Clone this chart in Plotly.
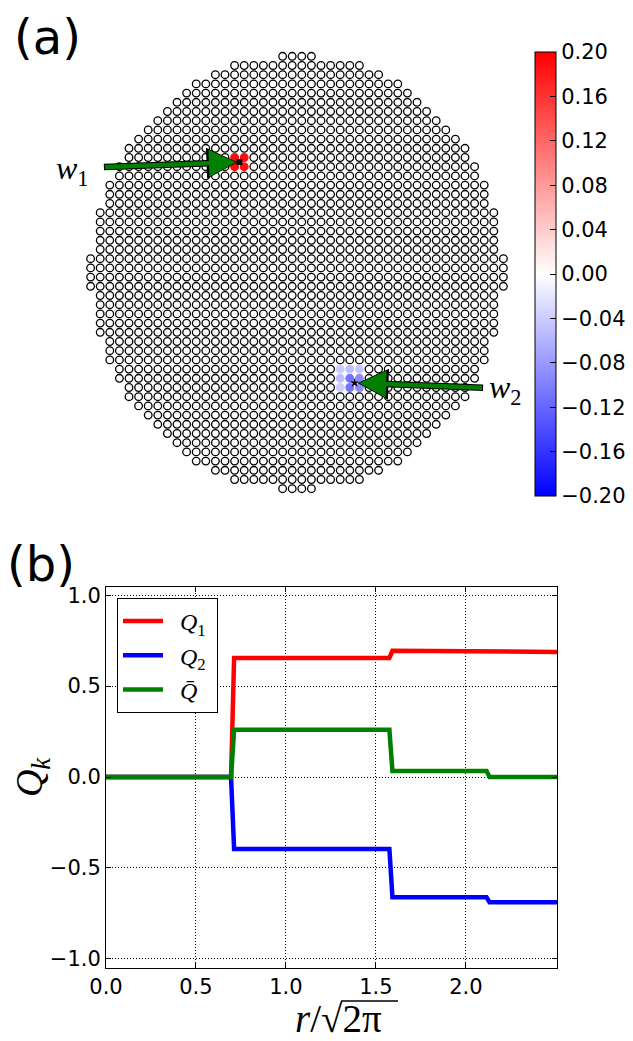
import numpy as np
import plotly.graph_objects as go

W, H = 633, 1041
OFF = 8  # page offset of the figure div (body margin)


def fx(px):
    return (px - OFF) / W


def fy(py):
    return 1 - (py - OFF) / H


# ---------------- Panel (a): lattice data ----------------
n_cols = 44
n_rows = 48
semi_x = 21.58      # half-width of the disc in lattice units
semi_y = 23.60      # half-height of the disc in lattice units

w1_pos = (-6.0, 12.0)
w2_pos = (6.0, -12.0)
# site offsets from the vortex centre and their values
w1_dx = [-0.5, 0.5, -0.5, 0.5]
w1_dy = [0.5, 0.5, -0.5, -0.5]
w1_val = [0.19, 0.19, 0.19, 0.19]
w2_dx = [-0.5, 0.5, -0.5, 0.5, -1.5, -1.5, -1.5, -0.5, 0.5]
w2_dy = [0.5, 0.5, -0.5, -0.5, 1.5, 0.5, -0.5, 1.5, 1.5]
w2_val = [-0.11, -0.09, -0.11, -0.09, -0.04, -0.05, -0.04, -0.05, -0.045]

cb_ticks = [-0.20, -0.16, -0.12, -0.08, -0.04, 0.00, 0.04, 0.08, 0.12, 0.16, 0.20]

# ---------------- Panel (b): step data ----------------
r_vals = [0.0, 0.695, 0.712, 1.575, 1.592, 2.115, 2.132, 2.5066]
q1_vals = [0.0, 0.0, 0.655, 0.655, 0.694, 0.694, 0.688, 0.688]
q2_vals = [0.0, 0.0, -0.395, -0.395, -0.661, -0.661, -0.689, -0.689]
qbar_vals = [0.0, 0.0, 0.260, 0.260, 0.033, 0.033, 0.0, 0.0]
x_ticks = [0.0, 0.5, 1.0, 1.5, 2.0]
y_ticks = [-1.0, -0.5, 0.0, 0.5, 1.0]

# ---------------- build lattice ----------------
xs, ys = [], []
for i in range(n_rows):
    y = i - (n_rows - 1) / 2
    for j in range(n_cols):
        x = j - (n_cols - 1) / 2
        if (x / semi_x) ** 2 + (y / semi_y) ** 2 <= 1.0:
            xs.append(x)
            ys.append(y)
xs = np.array(xs)
ys = np.array(ys)
vals = np.zeros(len(xs))
for (cx, cy), dxs, dys, vs in [(w1_pos, w1_dx, w1_dy, w1_val), (w2_pos, w2_dx, w2_dy, w2_val)]:
    for dx, dy, v in zip(dxs, dys, vs):
        m = (np.abs(xs - (cx + dx)) < 1e-6) & (np.abs(ys - (cy + dy)) < 1e-6)
        vals[m] = v

bwr = [[0.0, "rgb(0,0,255)"], [0.5, "rgb(255,255,255)"], [1.0, "rgb(255,0,0)"]]


def bwr_color(v):
    t = min(max((v + 0.2) / 0.4, 0.0), 1.0)
    if t < 0.5:
        f = t / 0.5
        r = g = int(round(255 * f))
        b = 255
    else:
        f = (t - 0.5) / 0.5
        r = 255
        g = b = int(round(255 * (1 - f)))
    return f"rgb({r},{g},{b})"


edge_cols = ["black" if abs(v) < 1e-9 else bwr_color(v) for v in vals]


def fmt(v):
    s = f"{abs(v):.2f}"
    return ("\u2212" + s) if v < -1e-9 else s


fig = go.Figure()

fig.add_trace(go.Scatter(
    x=xs, y=ys, mode="markers", showlegend=False, hoverinfo="skip",
    marker=dict(
        size=7.6, color=vals, colorscale=bwr, cmin=-0.2, cmax=0.2,
        line=dict(color=edge_cols, width=1.3),
        showscale=True,
        colorbar=dict(
            thickness=21, thicknessmode="pixels",
            len=444, lenmode="pixels",
            x=fx(535), xanchor="left", y=fy(274), yanchor="middle",
            outlinewidth=1, outlinecolor="black",
            ticks="inside", ticklen=6, tickcolor="black", tickwidth=1,
            tickvals=cb_ticks, ticktext=[fmt(v) for v in cb_ticks],
            tickfont=dict(family="DejaVu Sans", size=21, color="black"),
            xpad=0, ypad=0,
        ),
    ),
    xaxis="x", yaxis="y",
))

fig.add_trace(go.Scatter(
    x=[w1_pos[0]], y=[w1_pos[1]], mode="markers", showlegend=False, hoverinfo="skip",
    marker=dict(symbol="square", size=6, color="black"), xaxis="x", yaxis="y"))
fig.add_trace(go.Scatter(
    x=[w2_pos[0]], y=[w2_pos[1]], mode="markers", showlegend=False, hoverinfo="skip",
    marker=dict(symbol="star", size=7, color="black"), xaxis="x", yaxis="y"))

# ---------------- panel (b) traces ----------------
NB = "\u00a0"
for name, vals_b, col in [(NB * 2 + "<i>Q</i><sub>1</sub>" + NB, q1_vals, "#ff0000"),
                          (NB * 2 + "<i>Q</i><sub>2</sub>" + NB, q2_vals, "#0000ff"),
                          (NB * 2 + "<i>Q\u0304</i>", qbar_vals, "#008000")]:
    fig.add_trace(go.Scatter(x=r_vals, y=vals_b, mode="lines", name=name,
                             line=dict(color=col, width=4.5),
                             xaxis="x2", yaxis="y2"))

# axis mapping for panel (a): page x = 297 + 9.6*xlat ; page y = 272.5 - 9.2*ylat
ax_l, ax_r = 80, 515
ay_t, ay_b = 45, 500
xr = [(ax_l - 297) / 9.6, (ax_r - 297) / 9.6]
yr = [(272.5 - ay_b) / 9.2, (272.5 - ay_t) / 9.2]

tickfont = dict(family="DejaVu Sans", size=21, color="black")

fig.update_layout(
    template="none",
    width=W, height=H,
    margin=dict(l=0, r=0, t=0, b=0, autoexpand=False),
    paper_bgcolor="white", plot_bgcolor="white",
    xaxis=dict(domain=[fx(ax_l), fx(ax_r)], range=xr, visible=False, automargin=False),
    yaxis=dict(domain=[fy(ay_b), fy(ay_t)], range=yr, visible=False, automargin=False),
    xaxis2=dict(domain=[fx(106), fx(557)], range=[0, 2.5066], anchor="y2", automargin=False,
                tickvals=x_ticks, ticktext=[f"{v:.1f}" for v in x_ticks],
                showline=True, linecolor="black", linewidth=1, mirror="ticks",
                ticks="inside", ticklen=5, tickcolor="black",
                showgrid=True, gridcolor="black", griddash="1px,2px", gridwidth=0.8,
                zeroline=False, tickfont=tickfont),
    yaxis2=dict(domain=[fy(968), fy(587)], range=[-1.05, 1.045], anchor="x2", automargin=False,
                tickvals=y_ticks, ticktext=[("\u2212" if v < 0 else "") + f"{abs(v):.1f}" for v in y_ticks],
                showline=True, linecolor="black", linewidth=1, mirror="ticks",
                ticks="inside", ticklen=5, tickcolor="black",
                showgrid=True, gridcolor="black", griddash="1px,2px", gridwidth=0.8,
                zeroline=False, tickfont=tickfont,
                title=dict(text="<i>Q<sub>k</sub></i>",
                           font=dict(family="Liberation Serif", size=38, color="black"),
                           standoff=10)),
    legend=dict(x=fx(117), y=fy(598), xanchor="left", yanchor="top",
                bgcolor="white", bordercolor="black", borderwidth=1,
                font=dict(family="Liberation Serif", size=24, color="black"),
                itemwidth=40),
    shapes=[
        # vinculum of the square root in the x-axis title
        dict(type="line", xref="paper", yref="paper",
             x0=fx(341), x1=fx(398), y0=fy(1001), y1=fy(1001),
             line=dict(color="black", width=1.5)),
    ],
    annotations=[
        dict(text="<i>r</i>/\u221a2\u03c0", x=fx(338), y=fy(1018), xref="paper", yref="paper",
             xanchor="center", yanchor="middle", showarrow=False,
             font=dict(family="Liberation Serif", size=39, color="black")),
        dict(text="(a)", x=fx(12), y=fy(7), xref="paper", yref="paper",
             xanchor="left", yanchor="top", showarrow=False,
             font=dict(family="DejaVu Sans", size=48, color="black")),
        dict(text="(b)", x=fx(5), y=fy(534), xref="paper", yref="paper",
             xanchor="left", yanchor="top", showarrow=False,
             font=dict(family="DejaVu Sans", size=48, color="black")),
        dict(text="<i>w</i><sub>1</sub>", x=fx(54), y=fy(170), xref="paper", yref="paper",
             xanchor="left", yanchor="middle", showarrow=False,
             font=dict(family="Liberation Serif", size=32, color="black")),
        dict(text="<i>w</i><sub>2</sub>", x=fx(487), y=fy(390), xref="paper", yref="paper",
             xanchor="left", yanchor="middle", showarrow=False,
             font=dict(family="Liberation Serif", size=32, color="black")),
        # arrows: black underlay then green
        dict(x=w1_pos[0], y=w1_pos[1], xref="x", yref="y", ax=-137, ay=5, text="",
             showarrow=True, arrowhead=2, arrowwidth=6.5, arrowsize=0.95, arrowcolor="black", standoff=2),
        dict(x=w1_pos[0], y=w1_pos[1], xref="x", yref="y", ax=-136, ay=5, text="",
             showarrow=True, arrowhead=2, arrowwidth=4.5, arrowsize=1.2, arrowcolor="#008000", standoff=3.5),
        dict(x=w2_pos[0], y=w2_pos[1], xref="x", yref="y", ax=130, ay=5, text="",
             showarrow=True, arrowhead=2, arrowwidth=6.5, arrowsize=0.95, arrowcolor="black", standoff=3),
        dict(x=w2_pos[0], y=w2_pos[1], xref="x", yref="y", ax=129, ay=5, text="",
             showarrow=True, arrowhead=2, arrowwidth=4.5, arrowsize=1.2, arrowcolor="#008000", standoff=4.5),
    ],
)

fig.write_html("out.html")
